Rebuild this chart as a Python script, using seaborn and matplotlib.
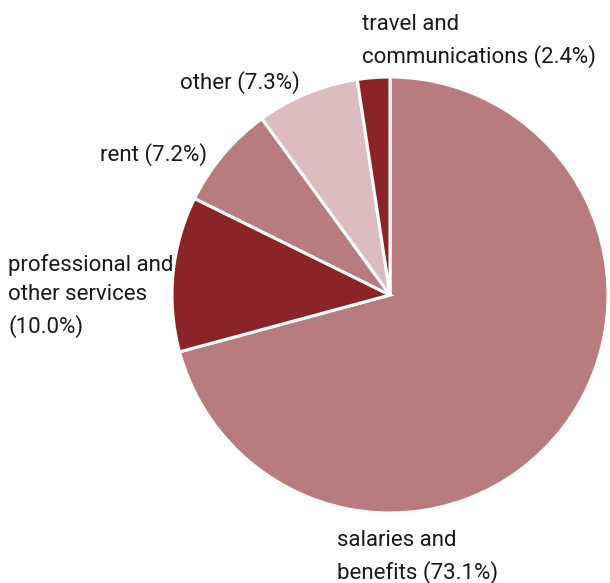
import matplotlib
matplotlib.use('Agg')
import matplotlib.pyplot as plt
import seaborn as sns

# Dados do gráfico (sentido horário a partir do topo)
categorias = ['salaries and\nbenefits (73.1%)',
              'professional and\nother services\n(10.0%)',
              'rent (7.2%)',
              'other (7.3%)',
              'travel and\ncommunications (2.4%)']
# tamanhos das fatias medidos na imagem (os ângulos desenhados diferem um pouco dos rótulos)
fatias = [70.8, 11.5, 7.7, 7.6, 2.4]
cores = ['#b97c7e', '#8b2429', '#b97c7e', '#dcbcbe', '#8b2429']

sns.set_theme(style='white')
plt.rcParams['font.family'] = ['Roboto', 'DejaVu Sans']

fig = plt.figure(figsize=(6.10, 5.83), dpi=100)
ax = fig.add_axes([0, 0, 1, 1])

ax.pie(fatias, colors=cores, startangle=90, counterclock=False,
       radius=218, center=(390, 288),
       wedgeprops={'edgecolor': 'white', 'linewidth': 2.2})
ax.set_xlim(0, 610)
ax.set_ylim(0, 583)
ax.set_aspect('equal')
ax.axis('off')

# Rótulos posicionados fora da pizza (y medido a partir do topo)
posicoes = [(337, 557, 'left'), (8, 296, 'left'), (207, 155, 'right'),
            (300, 83, 'right'), (362, 41, 'left')]
for texto, (x, y, ha) in zip(categorias, posicoes):
    ax.text(x, 583 - y, texto, ha=ha, va='center', fontsize=16,
            color='#1a1a1a', linespacing=1.55)

fig.savefig('out.png', dpi=100)
